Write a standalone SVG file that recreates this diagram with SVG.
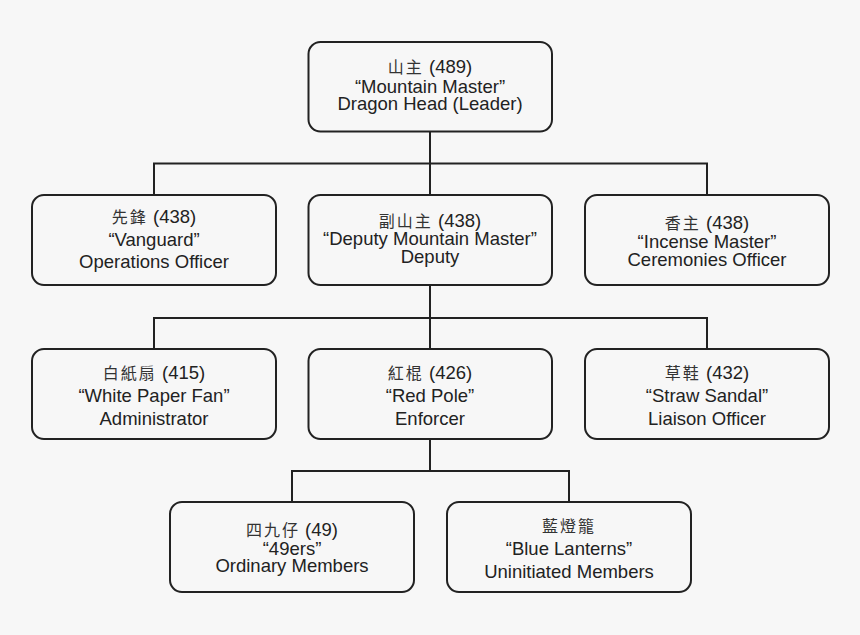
<svg xmlns="http://www.w3.org/2000/svg" width="860" height="635" viewBox="0 0 860 635">
<style>
.box{fill:#f7f7f7;stroke:#222;stroke-width:2}
.t{font-family:"Liberation Sans","Noto Sans CJK TC",sans-serif;font-size:18.5px;fill:#222;text-anchor:middle}
.cjk{font-family:"Noto Sans CJK TC",sans-serif;font-size:16px;letter-spacing:2px;fill:#333}
.conn{fill:none;stroke:#222;stroke-width:2}
</style>
<rect width="860" height="635" fill="#f7f7f7"/>
<g id="connectors" class="conn">
<path d="M430 131V163.5M154 195V163.5H707V195M430 163.5V195"/>
<path d="M430 285V318M154 349V318H707V349M430 318V349"/>
<path d="M430 439V471M292 502V471H569V502"/>
</g>
<g id="mountain-master">
<rect class="box" x="308.5" y="42" width="243.5" height="89.5" rx="12"/>
<text class="t" x="430" y="73"><tspan class="cjk">山主</tspan> (489)</text>
<text class="t" x="430" y="92.5">“Mountain Master”</text>
<text class="t" x="430" y="110">Dragon Head (Leader)</text>
</g>
<g id="vanguard">
<rect class="box" x="32" y="195" width="244" height="90" rx="12"/>
<text class="t" x="154" y="222.5"><tspan class="cjk">先鋒</tspan> (438)</text>
<text class="t" x="154" y="245.5">“Vanguard”</text>
<text class="t" x="154" y="268">Operations Officer</text>
</g>
<g id="deputy">
<rect class="box" x="308.5" y="195" width="243.5" height="90" rx="12"/>
<text class="t" x="430" y="226.5"><tspan class="cjk">副山主</tspan> (438)</text>
<text class="t" x="430" y="245">“Deputy Mountain Master”</text>
<text class="t" x="430" y="263">Deputy</text>
</g>
<g id="incense-master">
<rect class="box" x="585" y="195" width="244" height="90" rx="12"/>
<text class="t" x="707" y="229"><tspan class="cjk">香主</tspan> (438)</text>
<text class="t" x="707" y="247.5">“Incense Master”</text>
<text class="t" x="707" y="266">Ceremonies Officer</text>
</g>
<g id="white-paper-fan">
<rect class="box" x="32" y="349" width="244" height="90" rx="12"/>
<text class="t" x="154" y="379"><tspan class="cjk">白紙扇</tspan> (415)</text>
<text class="t" x="154" y="402">“White Paper Fan”</text>
<text class="t" x="154" y="424.5">Administrator</text>
</g>
<g id="red-pole">
<rect class="box" x="308.5" y="349" width="243.5" height="90" rx="12"/>
<text class="t" x="430" y="379"><tspan class="cjk">紅棍</tspan> (426)</text>
<text class="t" x="430" y="402">“Red Pole”</text>
<text class="t" x="430" y="424.5">Enforcer</text>
</g>
<g id="straw-sandal">
<rect class="box" x="585" y="349" width="244" height="90" rx="12"/>
<text class="t" x="707" y="379"><tspan class="cjk">草鞋</tspan> (432)</text>
<text class="t" x="707" y="402">“Straw Sandal”</text>
<text class="t" x="707" y="424.5">Liaison Officer</text>
</g>
<g id="forty-niners">
<rect class="box" x="170" y="502" width="244" height="90" rx="12"/>
<text class="t" x="292" y="536"><tspan class="cjk">四九仔</tspan> (49)</text>
<text class="t" x="292" y="554.5">“49ers”</text>
<text class="t" x="292" y="572">Ordinary Members</text>
</g>
<g id="blue-lanterns">
<rect class="box" x="447" y="502" width="244" height="90" rx="12"/>
<text class="t" x="569" y="532"><tspan class="cjk">藍燈籠</tspan></text>
<text class="t" x="569" y="555">“Blue Lanterns”</text>
<text class="t" x="569" y="578">Uninitiated Members</text>
</g>
</svg>
